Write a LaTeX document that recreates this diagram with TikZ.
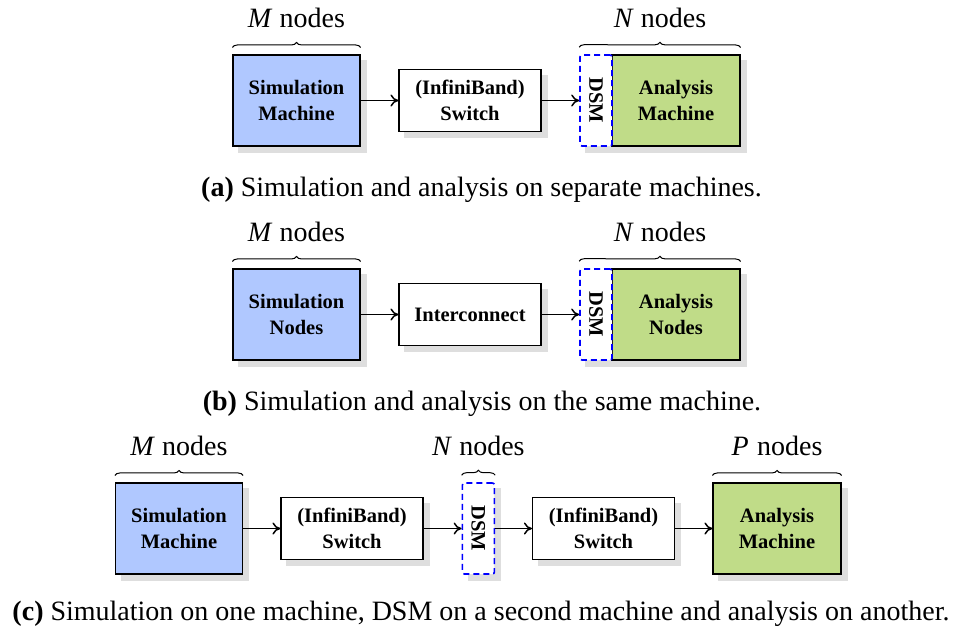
\documentclass[tikz,border=0pt]{standalone}
\usepackage{fontspec}
\usepackage{graphicx}
\setmainfont{Liberation Serif}
\usetikzlibrary{decorations.pathreplacing,backgrounds,arrows.meta}

\definecolor{simblue}{RGB}{176,200,255}
\definecolor{anagreen}{RGB}{192,220,136}
\definecolor{shadowgray}{RGB}{222,222,222}
\definecolor{dsmblue}{RGB}{0,0,255}

\newcommand\boxfont{\fontsize{20.5}{26.5}\selectfont\bfseries}
\newcommand\labelfont{\fontsize{28}{33}\selectfont}
\newcommand\nodecount[1]{{\itshape #1}\hspace{0.3em}nodes}
% grey drop shadow behind a named node
\newcommand\shadowof[1]{\fill[shadowgray] ([shift={(6,6)}]#1.south west) rectangle ([shift={(6,6)}]#1.north east);}

\tikzset{
  boxbase/.style={draw=black, line width=1.1pt, inner sep=0pt, align=center, font=\boxfont},
  simbox/.style={boxbase, fill=simblue, minimum width=127pt, minimum height=91pt},
  anabox/.style={boxbase, fill=anagreen, minimum width=128pt, minimum height=91pt},
  swbox/.style={boxbase, fill=white, minimum width=142pt, minimum height=62pt},
  dsmbox/.style={draw=dsmblue, fill=white, dash pattern=on 6pt off 4pt, line width=1.6pt,
    rounded corners=2pt, minimum width=32pt, minimum height=91pt, inner sep=0pt, font=\boxfont},
  link/.style={-{To[length=8pt,width=12pt,line width=1.5pt]}, line width=1.7pt},
  bracebr/.style={decorate, decoration={brace, amplitude=5pt}, line width=1pt},
  countlbl/.style={font=\labelfont, anchor=base, inner sep=0pt},
  caplbl/.style={font=\labelfont, anchor=base, inner sep=0pt},
}

\begin{document}
\begin{tikzpicture}[x=1pt, y=-1pt]
\useasboundingbox (0,0) rectangle (955,633);

% ---------- (a) separate machines ----------
\node[simbox] (simA) at (296.5,100.5) {Simulation\\Machine};
\node[swbox]  (swA)  at (470,100.5)   {(InfiniBand)\\Switch};
\node[anabox] (anaA) at (676,100.5)   {Analysis\\Machine};
\node[dsmbox] (dsmA) at (596,100.5)   {\rotatebox{-90}{DSM}};
\draw[link] (simA.east) -- (swA.west);
\draw[link] (swA.east) -- (dsmA.west);
\coordinate (bAl) at ([yshift=7pt]simA.north west);
\coordinate (bAr) at ([yshift=7pt]simA.north east);
\coordinate (bBl) at ([yshift=7pt]dsmA.north west);
\coordinate (bBr) at ([yshift=7pt]anaA.north east);
\draw[bracebr] (bAl) -- (bAr);
\draw[bracebr] (bBl) -- (bBr);
\node[countlbl] (mA) at (296.5,27.7) {\nodecount{M}};
\node[countlbl] (nA) at (660,27.7) {\nodecount{N}};
\node[caplbl] (capA) at (481.5,196.5) {{\bfseries (a)} Simulation and analysis on separate machines.};

% ---------- (b) same machine ----------
\node[simbox] (simB) at (296.5,314.5) {Simulation\\Nodes};
\node[swbox]  (swB)  at (470,314.5)   {Interconnect};
\node[anabox] (anaB) at (676,314.5)   {Analysis\\Nodes};
\node[dsmbox] (dsmB) at (596,314.5)   {\rotatebox{-90}{DSM}};
\draw[link] (simB.east) -- (swB.west);
\draw[link] (swB.east) -- (dsmB.west);
\coordinate (cAl) at ([yshift=7pt]simB.north west);
\coordinate (cAr) at ([yshift=7pt]simB.north east);
\coordinate (cBl) at ([yshift=7pt]dsmB.north west);
\coordinate (cBr) at ([yshift=7pt]anaB.north east);
\draw[bracebr] (cAl) -- (cAr);
\draw[bracebr] (cBl) -- (cBr);
\node[countlbl] (mB) at (296.5,241.7) {\nodecount{M}};
\node[countlbl] (nB) at (660,241.7) {\nodecount{N}};
\node[caplbl] (capB) at (482,410) {{\bfseries (b)} Simulation and analysis on the same machine.};

% ---------- (c) three machines ----------
\node[simbox] (simC) at (179,528.5)   {Simulation\\Machine};
\node[swbox]  (swC)  at (352,528.5)   {(InfiniBand)\\Switch};
\node[dsmbox] (dsmC) at (478.4,528.5) {\rotatebox{-90}{DSM}};
\node[swbox]  (swD)  at (603.5,528.5) {(InfiniBand)\\Switch};
\node[anabox] (anaC) at (777,528.5)   {Analysis\\Machine};
\draw[link] (simC.east) -- (swC.west);
\draw[link] (swC.east) -- (dsmC.west);
\draw[link] (dsmC.east) -- (swD.west);
\draw[link] (swD.east) -- (anaC.west);
\coordinate (dAl) at ([yshift=7pt]simC.north west);
\coordinate (dAr) at ([yshift=7pt]simC.north east);
\coordinate (dBl) at ([yshift=7pt]dsmC.north west);
\coordinate (dBr) at ([yshift=7pt]dsmC.north east);
\coordinate (dCl) at ([yshift=7pt]anaC.north west);
\coordinate (dCr) at ([yshift=7pt]anaC.north east);
\draw[bracebr] (dAl) -- (dAr);
\draw[bracebr] (dBl) -- (dBr);
\draw[bracebr] (dCl) -- (dCr);
\node[countlbl] (mC) at (179,455.5) {\nodecount{M}};
\node[countlbl] (nC) at (478.4,455.5) {\nodecount{N}};
\node[countlbl] (pC) at (777,455.5) {\nodecount{P}};
\node[caplbl] (capC) at (481,620) {{\bfseries (c)} Simulation on one machine, DSM on a second machine and analysis on another.};

% ---------- shadows ----------
\begin{pgfonlayer}{background}
  \shadowof{simA}\shadowof{swA}\shadowof{anaA}\shadowof{dsmA}
  \shadowof{simB}\shadowof{swB}\shadowof{anaB}\shadowof{dsmB}
  \shadowof{simC}\shadowof{swC}\shadowof{dsmC}\shadowof{swD}\shadowof{anaC}
\end{pgfonlayer}
\end{tikzpicture}
\end{document}
